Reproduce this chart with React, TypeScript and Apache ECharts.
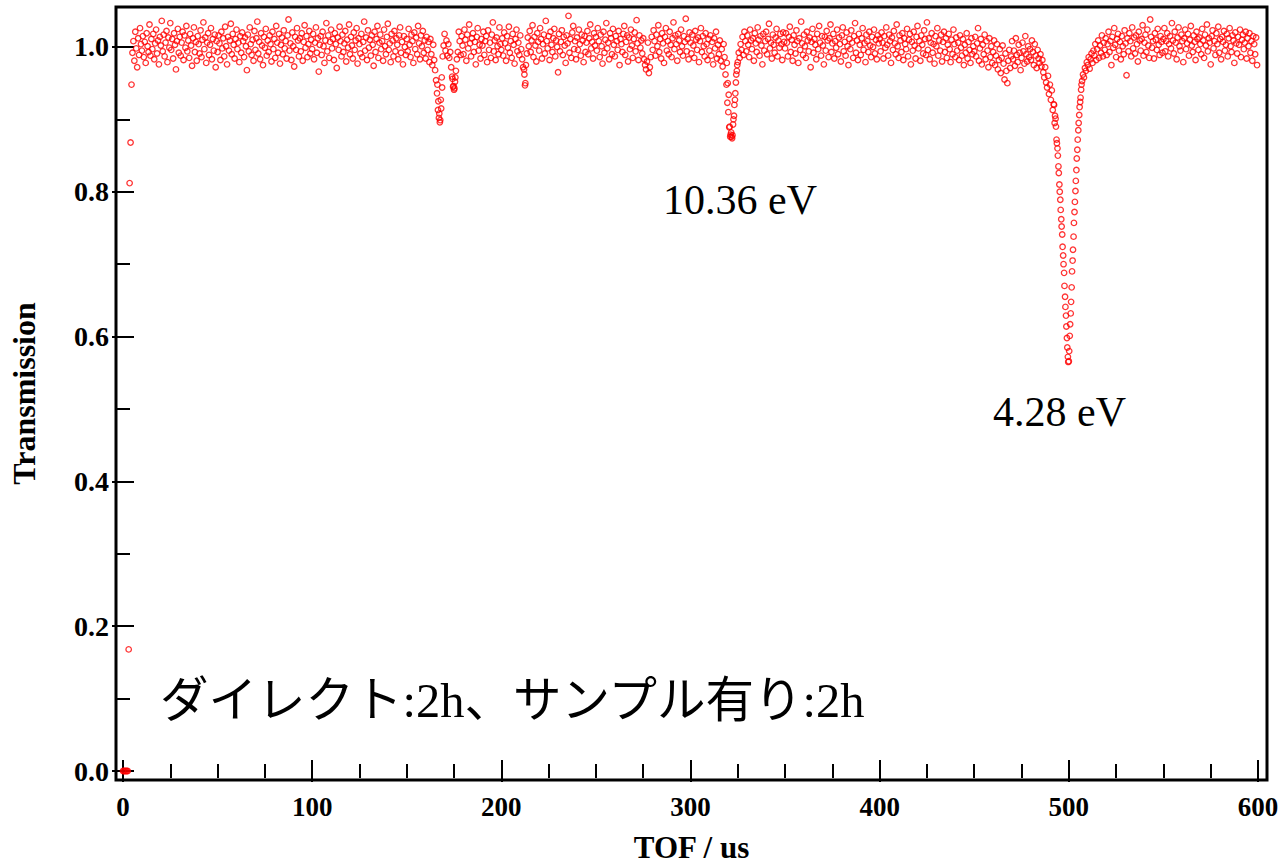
import React, { useEffect, useRef } from "react";
import * as echarts from "echarts";

// TOF bins: 0.5 us apart, in 50 us segments
const STEP = 0.5;
const segStart = [0, 50, 100, 150, 200, 250, 300, 350, 400, 450, 500, 550];

const seg000 = [
  0, 0, 0, 0, 0, 0, 0.168, 0.812, 0.868, 0.948,
  0.992, 1.008, 0.981, 1.021, 0.998, 0.972, 1.012, 0.989, 1.026, 1.004,
  0.995, 1.015, 0.986, 1.007, 0.978, 1.019, 1.001, 0.993, 1.031, 0.988,
  1.011, 0.997, 1.018, 0.983, 1.005, 1.024, 0.991, 1.009, 0.976, 1.014,
  1.002, 1.036, 0.994, 1.017, 0.987, 1.006, 1.022, 0.979, 1.013, 0.999,
  1.033, 0.996, 1.011, 0.984, 1.019, 1.003, 0.969, 1.008, 1.025, 0.992,
  1.014, 0.988, 1.006, 1.021, 0.982, 1.016, 0.999, 1.029, 0.994, 1.009,
  0.985, 1.018, 1.002, 0.974, 1.012, 1.027, 0.993, 1.007, 0.981, 1.015,
  1.004, 0.991, 1.023, 0.986, 1.01, 1.034, 0.997, 1.013, 0.978, 1.006,
  1.019, 0.989, 1.003, 1.026, 0.983, 1.011, 0.995, 1.017, 0.972, 1.008,
];
const seg050 = [
  0.993, 1.016, 1.005, 0.982, 1.021, 0.998, 1.012, 0.987, 1.028, 1.001,
  0.976, 1.014, 0.995, 1.009, 1.032, 0.99, 1.018, 1.003, 0.984, 1.011,
  1.024, 0.997, 1.006, 0.979, 1.015, 0.992, 1.02, 1.008, 0.986, 1.013,
  1.001, 0.968, 1.017, 0.994, 1.027, 1.004, 0.989, 1.01, 0.981, 1.022,
  0.996, 1.012, 1.035, 0.991, 1.007, 0.983, 1.019, 1.002, 0.975, 1.014,
  0.999, 1.025, 0.988, 1.009, 0.993, 1.016, 1.004, 0.98, 1.021, 0.997,
  1.011, 0.985, 1.029, 1.006, 0.992, 1.018, 0.977, 1.003, 1.013, 0.99,
  1.023, 0.998, 1.008, 0.984, 1.016, 1.038, 0.995, 1.005, 0.982, 1.02,
  1.001, 0.973, 1.014, 0.996, 1.026, 1.009, 0.987, 1.012, 0.994, 1.019,
  0.981, 1.007, 1.03, 0.999, 1.015, 0.986, 1.004, 1.022, 0.991, 1.01,
];
const seg100 = [
  0.997, 1.018, 0.983, 1.006, 1.027, 0.992, 1.012, 0.966, 1.003, 1.015,
  0.989, 1.021, 1.001, 0.978, 1.009, 1.033, 0.994, 1.016, 0.985, 1.007,
  1.024, 0.998, 1.011, 0.982, 1.019, 1.004, 0.971, 1.013, 0.996, 1.028,
  1.008, 0.987, 1.017, 0.993, 1.005, 1.022, 0.98, 1.01, 0.999, 1.031,
  0.99, 1.014, 1.002, 0.984, 1.02, 0.996, 1.009, 1.026, 0.977, 1.012,
  1.004, 0.991, 1.018, 0.986, 1.007, 1.035, 0.995, 1.013, 0.982, 1.023,
  0.999, 1.01, 0.988, 1.016, 1.003, 0.974, 1.021, 0.993, 1.011, 1.029,
  0.985, 1.006, 1.017, 0.997, 1.008, 0.981, 1.024, 1.001, 0.99, 1.014,
  1.032, 0.996, 1.005, 0.979, 1.018, 1.009, 0.987, 1.022, 0.994, 1.012,
  1.003, 0.983, 1.016, 1.027, 0.992, 1.007, 0.976, 1.015, 1.0, 0.989,
];
const seg150 = [
  1.011, 0.994, 1.025, 1.003, 0.986, 1.017, 1.008, 0.978, 1.02, 0.997,
  1.013, 0.99, 1.029, 1.005, 0.983, 1.016, 1.001, 1.022, 0.992, 1.009,
  0.984, 1.014, 0.996, 1.007, 0.979, 1.011, 0.99, 0.975, 1.003, 0.982,
  0.968, 0.954, 0.936, 0.913, 0.902, 0.896, 0.927, 0.958, 0.987, 1.002,
  1.018, 0.995, 1.009, 0.988, 1.004, 0.985, 0.993, 0.972, 0.959, 0.945,
  0.941, 0.952, 0.967, 0.983, 0.993, 1.021, 1.008, 0.989, 1.015, 1.002,
  0.99, 1.024, 1.01, 0.981, 1.017, 0.998, 1.031, 1.005, 0.987, 1.012,
  1.019, 0.993, 1.007, 0.976, 1.014, 1.026, 0.995, 1.003, 0.984, 1.011,
  1.002, 1.021, 0.989, 1.008, 1.015, 0.979, 1.023, 0.996, 1.006, 0.985,
  1.017, 1.034, 0.994, 1.009, 0.982, 1.013, 1.001, 0.99, 1.027, 1.004,
];
const seg200 = [
  0.996, 1.012, 0.988, 1.02, 1.005, 0.981, 1.015, 0.999, 1.028, 0.992,
  1.008, 0.985, 1.018, 1.003, 0.977, 1.011, 1.024, 0.994, 1.006, 0.989,
  1.016, 0.997, 0.983, 0.972, 0.969, 0.947, 0.975, 0.991, 1.013, 1.001,
  1.022, 0.993, 1.009, 1.03, 0.986, 1.014, 1.002, 0.98, 1.019, 1.007,
  0.995, 1.026, 1.011, 0.984, 1.004, 1.017, 0.991, 1.036, 1.008, 0.998,
  1.015, 0.982, 1.021, 1.003, 0.993, 1.012, 1.025, 0.987, 1.009, 1.0,
  0.965, 1.018, 0.994, 1.007, 1.023, 0.989, 1.014, 1.002, 0.978, 1.016,
  1.005, 1.043, 0.992, 1.011, 0.985, 1.02, 1.029, 0.997, 1.008, 0.983,
  1.013, 0.996, 1.024, 1.004, 0.988, 1.017, 1.009, 0.979, 1.015, 0.993,
  1.006, 1.022, 0.99, 1.012, 1.031, 0.998, 1.007, 0.984, 1.019, 1.002,
];
const seg250 = [
  1.014, 0.995, 1.026, 1.008, 0.986, 1.017, 1.001, 0.977, 1.021, 0.992,
  1.01, 1.033, 0.998, 1.006, 0.983, 1.019, 1.012, 0.99, 1.025, 1.003,
  0.987, 1.015, 1.008, 0.996, 1.022, 0.975, 1.011, 1.004, 0.993, 1.018,
  1.029, 0.989, 1.007, 1.016, 0.98, 1.013, 0.997, 1.024, 1.002, 0.985,
  1.011, 1.02, 0.994, 1.037, 1.005, 0.982, 1.016, 0.999, 1.009, 0.991,
  1.012, 0.983, 0.975, 0.969, 0.98, 1.006, 0.964, 0.972, 0.986, 1.014,
  0.996, 1.023, 1.008, 0.988, 1.017, 1.001, 1.03, 0.993, 1.011, 0.984,
  1.019, 1.005, 0.978, 1.014, 1.026, 0.995, 1.008, 0.99, 1.021, 1.003,
  0.986, 1.012, 1.034, 0.997, 1.016, 1.004, 0.981, 1.018, 1.009, 0.993,
  1.024, 1.001, 0.988, 1.015, 1.007, 1.039, 0.994, 1.011, 0.983, 1.02,
];
const seg300 = [
  1.006, 0.991, 1.017, 1.002, 0.985, 1.022, 1.01, 0.996, 1.013, 0.979,
  1.008, 1.026, 0.993, 1.015, 1.001, 0.987, 1.019, 1.004, 0.982, 1.011,
  0.995, 1.016, 0.988, 1.007, 0.976, 1.012, 0.998, 1.021, 0.984, 1.003,
  0.99, 1.009, 0.981, 0.997, 0.973, 1.004, 0.986, 0.962, 0.948, 0.923,
  0.91, 0.889, 0.876, 0.882, 0.874, 0.893, 0.905, 0.927, 0.951, 0.967,
  0.979, 0.992, 0.985, 1.004, 0.996, 1.014, 0.989, 1.021, 1.008, 0.994,
  1.016, 1.003, 0.986, 1.024, 1.009, 0.997, 1.012, 0.981, 1.019, 1.005,
  0.993, 1.027, 1.01, 0.988, 1.015, 1.002, 0.976, 1.018, 0.995, 1.008,
  1.021, 0.99, 1.011, 1.032, 0.998, 1.006, 0.984, 1.017, 1.003, 0.992,
  1.013, 1.025, 0.987, 1.009, 0.999, 1.018, 1.004, 0.982, 1.02, 1.007,
];
const seg350 = [
  0.998, 1.019, 1.006, 0.987, 1.014, 1.028, 0.993, 1.01, 0.981, 1.016,
  1.003, 0.991, 1.023, 1.008, 0.978, 1.012, 0.996, 1.035, 1.005, 0.989,
  1.017, 1.001, 0.985, 1.021, 1.009, 0.994, 1.013, 0.972, 1.007, 1.025,
  0.992, 1.011, 1.003, 0.983, 1.018, 0.997, 1.029, 1.006, 0.988, 1.015,
  1.002, 0.976, 1.014, 0.995, 1.022, 1.009, 0.986, 1.012, 1.031, 0.993,
  1.005, 1.018, 0.984, 1.008, 0.999, 1.024, 0.99, 1.013, 1.004, 0.98,
  1.016, 1.027, 0.994, 1.007, 0.988, 1.02, 1.001, 0.975, 1.011, 0.997,
  1.023, 1.006, 0.985, 1.015, 1.033, 0.992, 1.009, 0.982, 1.018, 1.003,
  0.989, 1.012, 1.026, 0.996, 1.005, 0.979, 1.017, 1.008, 0.993, 1.021,
  1.002, 0.986, 1.014, 1.0, 1.024, 0.991, 1.01, 0.983, 1.016, 1.005,
];
const seg400 = [
  1.011, 0.994, 1.02, 1.006, 0.984, 1.015, 0.999, 1.027, 1.003, 0.988,
  1.017, 1.008, 0.978, 1.013, 0.996, 1.022, 1.005, 0.99, 1.031, 1.001,
  0.985, 1.016, 1.009, 0.993, 1.019, 0.982, 1.012, 1.004, 0.997, 1.025,
  0.987, 1.01, 1.018, 0.976, 1.007, 0.995, 1.021, 1.002, 0.984, 1.014,
  1.029, 0.998, 1.008, 0.981, 1.016, 1.003, 0.991, 1.023, 1.011, 0.989,
  1.034, 0.996, 1.012, 0.983, 1.006, 1.019, 0.992, 1.004, 0.977, 1.015,
  1.001, 1.026, 0.988, 1.009, 0.995, 1.017, 0.98, 1.007, 1.021, 0.993,
  1.012, 0.985, 1.003, 1.018, 0.997, 0.979, 1.01, 0.99, 1.024, 1.004,
  0.986, 1.013, 0.995, 1.006, 0.982, 1.016, 0.999, 0.988, 1.011, 0.975,
  1.003, 0.992, 1.019, 0.984, 1.007, 0.996, 0.978, 1.012, 0.99, 1.001,
];
const seg450 = [
  0.994, 1.014, 0.987, 1.005, 1.026, 0.981, 0.998, 1.011, 0.976, 1.003,
  0.99, 1.017, 0.983, 1.008, 0.995, 0.972, 1.012, 0.986, 1.001, 0.978,
  0.993, 1.009, 0.975, 0.988, 1.004, 0.969, 0.982, 0.997, 0.964, 0.985,
  1.002, 0.977, 0.955, 0.991, 0.967, 0.95, 0.981, 0.996, 0.971, 0.987,
  1.008, 0.983, 0.995, 0.974, 1.012, 0.989, 0.979, 1.003, 0.992, 0.968,
  0.985, 1.006, 0.994, 0.977, 1.015, 0.99, 0.98, 1.001, 0.986, 0.997,
  0.982, 1.009, 0.993, 0.975, 1.004, 0.988, 0.971, 0.996, 0.984, 0.978,
  0.99, 0.973, 0.982, 0.965, 0.958, 0.972, 0.951, 0.944, 0.96, 0.935,
  0.948, 0.927, 0.94, 0.913, 0.921, 0.895, 0.901, 0.872, 0.86, 0.835,
  0.81, 0.789, 0.762, 0.741, 0.712, 0.688, 0.655, 0.629, 0.598, 0.572,
];
const seg500 = [
  0.566, 0.601, 0.632, 0.668, 0.705, 0.738, 0.772, 0.801, 0.83, 0.858,
  0.885, 0.906, 0.924, 0.941, 0.953, 0.962, 0.958, 0.971, 0.967, 0.979,
  0.975, 0.986, 0.97, 0.983, 0.991, 0.978, 0.995, 0.988, 1.004, 0.982,
  0.997, 1.009, 0.985, 1.002, 0.992, 1.016, 0.987, 1.006, 0.996, 1.012,
  0.989, 1.004, 1.021, 0.993, 1.008, 0.975, 1.014, 0.999, 1.026, 1.003,
  0.986, 1.011, 1.018, 0.995, 1.007, 0.983, 1.015, 1.001, 0.99, 1.023,
  1.005, 0.961, 1.012, 0.994, 1.019, 1.008, 0.987, 1.027, 0.998, 1.013,
  0.991, 1.016, 1.004, 0.98, 1.021, 1.009, 0.995, 1.011, 1.03, 0.988,
  1.006, 1.017, 0.993, 1.024, 1.002, 0.985, 1.038, 1.014, 0.999, 1.008,
  0.984, 1.019, 1.01, 0.996, 1.025, 1.003, 0.989, 1.015, 1.007, 0.992,
];
const seg550 = [
  1.011, 1.026, 0.994, 1.008, 1.019, 0.987, 1.004, 1.015, 0.998, 1.033,
  1.009, 0.991, 1.021, 1.006, 0.983, 1.013, 1.027, 1.001, 0.995, 1.017,
  1.008, 0.979, 1.012, 1.024, 0.997, 1.005, 1.018, 0.988, 1.01, 1.029,
  1.002, 0.993, 1.016, 1.007, 0.982, 1.021, 1.011, 0.996, 1.013, 1.004,
  0.99, 1.025, 1.009, 0.985, 1.017, 1.002, 1.031, 0.994, 1.012, 1.006,
  0.976, 1.015, 1.023, 0.998, 1.008, 0.989, 1.019, 1.004, 1.028, 0.992,
  1.011, 0.983, 1.014, 1.007, 1.022, 0.995, 1.003, 1.018, 0.987, 1.012,
  1.026, 1.001, 0.993, 1.016, 1.009, 0.978, 1.02, 1.005, 0.991, 1.014,
  1.003, 1.024, 0.986, 1.01, 1.017, 0.997, 1.006, 1.021, 0.984, 1.012,
  1.001, 1.019, 0.992, 1.008, 0.981, 1.015, 1.004, 0.99, 1.013, 0.975,
];

// finer samples inside the resonance dips: [TOF, transmission]
const dipFine = [
  [166.2, 0.948], [166.7, 0.925], [167.2, 0.908], [167.7, 0.899], [168.2, 0.915], [168.7, 0.944],
  [174.2, 0.956], [174.7, 0.946], [175.2, 0.943], [175.7, 0.958],
  [212.2, 0.962], [212.7, 0.95],
  [319.2, 0.978], [319.7, 0.95], [320.2, 0.934], [320.7, 0.89], [321.2, 0.879], [321.7, 0.876],
  [322.2, 0.878], [322.7, 0.9], [323.2, 0.92], [323.7, 0.936], [324.2, 0.962], [324.7, 0.975],
  [492.2, 0.92], [492.7, 0.905], [493.2, 0.89], [493.7, 0.867], [494.2, 0.85], [494.7, 0.826],
  [495.2, 0.8], [495.7, 0.775], [496.2, 0.752], [496.7, 0.724], [497.2, 0.7], [497.7, 0.67],
  [498.2, 0.641], [498.7, 0.614], [499.2, 0.585], [499.7, 0.565], [500.2, 0.58], [500.7, 0.617],
  [501.2, 0.648], [501.7, 0.69], [502.2, 0.72], [502.7, 0.757], [503.2, 0.786], [503.7, 0.815],
  [504.2, 0.846], [504.7, 0.872], [505.2, 0.895], [505.7, 0.917], [506.2, 0.93], [506.7, 0.948],
];

const segments = [seg000, seg050, seg100, seg150, seg200, seg250, seg300, seg350, seg400, seg450, seg500, seg550];

const xMajor = [0, 100, 200, 300, 400, 500, 600];
const xMinor = [25, 50, 75, 125, 150, 175, 225, 250, 275, 325, 350, 375, 425, 450, 475, 525, 550, 575];
const yMajor = [0, 0.2, 0.4, 0.6, 0.8, 1.0];
const yMinor = [0.1, 0.3, 0.5, 0.7, 0.9];

const peakLabels = ["10.36 eV", "4.28 eV"];
const noteText = "ダイレクト:2h、サンプル有り:2h";

const X_MIN = -3.7;
const X_MAX = 604.76;
const Y_MIN = -0.0124;
const Y_MAX = 1.0552;

const SERIF = '"Liberation Serif", "Times New Roman", serif';

export default function App() {
  const ref = useRef<HTMLDivElement>(null);

  useEffect(() => {
    if (!ref.current) return;
    const chart = echarts.init(ref.current, null, { renderer: "svg" });

    const data: number[][] = [];
    segments.forEach((seg, k) => {
      seg.forEach((y, i) => data.push([segStart[k] + i * STEP, y]));
    });
    dipFine.forEach((p) => data.push(p));

    const gridRect = { left: 116, top: 7, width: 1151, height: 773, outerBoundsMode: "none", containLabel: false };
    const tick = (vals: number[], len: number) => ({
      show: true,
      inside: true,
      length: len,
      customValues: vals,
      lineStyle: { color: "#000", width: 2 },
    });
    const labelStyle = {
      fontFamily: SERIF,
      fontWeight: "bold" as const,
      fontSize: 28,
      color: "#000",
    };
    const xAx = (grid: number, pos: string, vals: number[], len: number, extra: any = {}) => ({
      type: "value",
      gridIndex: grid,
      position: pos,
      min: X_MIN,
      max: X_MAX,
      axisLine: { show: false },
      splitLine: { show: false },
      axisTick: tick(vals, len),
      axisLabel: { show: false },
      ...extra,
    });
    const yAx = (grid: number, pos: string, vals: number[], len: number, extra: any = {}) => ({
      type: "value",
      gridIndex: grid,
      position: pos,
      min: Y_MIN,
      max: Y_MAX,
      axisLine: { show: false },
      splitLine: { show: false },
      axisTick: tick(vals, len),
      axisLabel: { show: false },
      ...extra,
    });

    chart.setOption({
      animation: false,
      backgroundColor: "#fff",
      grid: [
        { ...gridRect, show: true, borderColor: "#000", borderWidth: 3, backgroundColor: "transparent" },
        { ...gridRect, show: false },
      ],
      xAxis: [
        xAx(0, "bottom", xMajor, 11, {
          axisLabel: {
            ...labelStyle,
            fontSize: 27,
            show: true,
            margin: 13,
            customValues: xMajor,
            formatter: (v: number) => String(Math.round(v)),
          },
          name: "TOF / us",
          nameLocation: "middle",
          nameGap: 52,
          nameTextStyle: { ...labelStyle, fontSize: 31 },
        }),
        xAx(0, "top", xMajor, 11),
        xAx(1, "bottom", xMinor, 7),
        xAx(1, "top", xMinor, 7),
      ],
      yAxis: [
        yAx(0, "left", yMajor, 11, {
          axisLabel: {
            ...labelStyle,
            show: true,
            margin: 7,
            customValues: yMajor,
            formatter: (v: number) => v.toFixed(1),
          },
          name: "Transmission",
          nameLocation: "middle",
          nameGap: 76,
          nameRotate: 90,
          nameTextStyle: { ...labelStyle, fontSize: 32 },
        }),
        yAx(0, "right", yMajor, 11),
        yAx(1, "left", yMinor, 7),
        yAx(1, "right", yMinor, 7),
      ],
      series: [
        {
          type: "scatter",
          xAxisIndex: 0,
          yAxisIndex: 0,
          data,
          symbol: "circle",
          symbolSize: 5.5,
          silent: true,
          itemStyle: { color: "rgba(255,255,255,0)", borderColor: "#ff0000", borderWidth: 1.3 },
        },
      ],
      graphic: [
        {
          type: "text",
          left: 663,
          top: 179,
          style: { text: peakLabels[0], fontFamily: SERIF, fontSize: 42, fill: "#000" },
        },
        {
          type: "text",
          left: 993,
          top: 391,
          style: { text: peakLabels[1], fontFamily: SERIF, fontSize: 42, fill: "#000" },
        },
        {
          type: "text",
          left: 160,
          top: 676,
          style: {
            text: noteText,
            fontFamily: '"Liberation Serif", "Noto Sans CJK JP", sans-serif',
            fontSize: 48.5,
            fill: "#000",
          },
        },
      ],
    });

    return () => chart.dispose();
  }, []);

  return (
    <div
      ref={ref}
      style={{ position: "fixed", left: 0, top: 0, width: 1281, height: 865, background: "#fff" }}
    />
  );
}
